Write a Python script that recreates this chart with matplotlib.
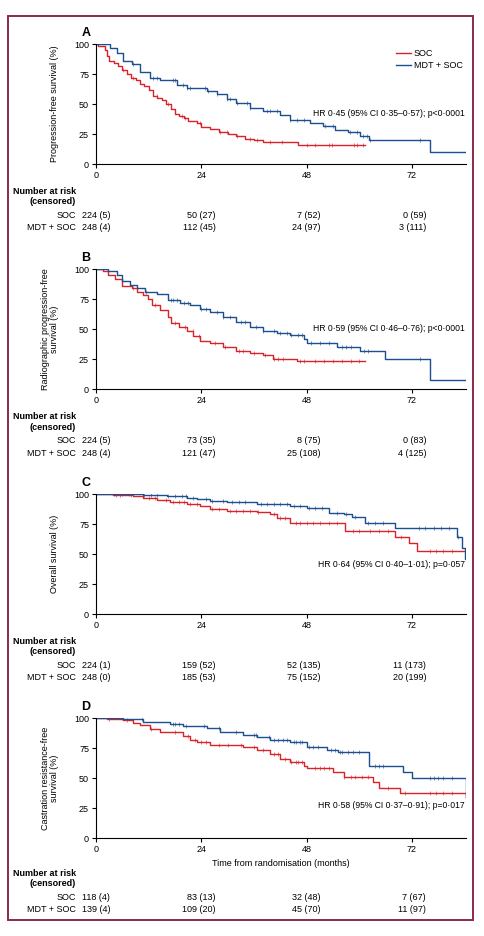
import numpy as np
import matplotlib
matplotlib.use("Agg")
import matplotlib.pyplot as plt
import matplotlib.transforms as mtransforms
from matplotlib.patches import Rectangle

plt.rcParams['font.family'] = ['Liberation Sans Narrow', 'Liberation Sans', 'DejaVu Sans']
plt.rcParams['font.size'] = 6.5

RED = '#d8232a'
BLUE = '#1c4f8f'
FRAME = '#8c2a4c'

# ---- data (months, % surviving) ----
# panel A: progression-free survival
a_soc_t = [0, 0.5, 2, 2.5, 3, 4, 5, 6, 7, 8, 9, 10, 11, 12, 13, 14, 15, 16, 17, 18, 19, 20, 21, 23, 24, 26, 28, 30, 32, 34, 36, 38, 46]
a_soc_s = [100, 98, 95, 90, 86, 84, 82, 78, 75, 72, 70, 67, 65, 62, 57, 55, 53, 50, 46, 42, 40, 38, 36, 34, 31, 29, 27, 25, 23, 21, 20, 18, 16]
a_soc_end = 61.3
a_soc_cens = [6.2, 8.5, 13.8, 16.5, 19.5, 20.3, 23.7, 28.3, 29.8, 32.1, 35.1, 36.6, 39.7, 42.3, 48.0, 49.9, 53.0, 53.7, 58.7, 59.4, 60.9]
a_mdt_t = [0, 3.2, 4.7, 6.2, 8.1, 10.0, 12.3, 14.6, 18.4, 20.7, 25.2, 27.5, 29.8, 32.0, 35.0, 38.0, 42.0, 44.2, 48.8, 51.8, 54.5, 57.5, 60.2, 62.1, 76.1]
a_mdt_s = [100, 97, 92.5, 85.5, 83, 77, 72, 70, 66, 63, 60.5, 58, 54, 51, 47, 44, 40.5, 37, 34, 32, 28, 26.5, 23, 20, 10]
a_mdt_end = 84.3
a_mdt_cens = [8.5, 13.1, 13.8, 17.6, 18.0, 19.9, 20.7, 21.4, 24.8, 25.6, 27.5, 29.8, 30.5, 32.1, 34.3, 35.1, 38.9, 39.7, 41.2, 44.2, 45.7, 47.3, 52.2, 54.1, 57.9, 59.4, 60.9, 61.7, 62.5, 73.9]

# panel B: radiographic progression-free survival
b_soc_t = [0, 1.5, 2.8, 4.3, 5.9, 8.1, 9.3, 10.8, 11.9, 12.7, 14.6, 16.5, 17.2, 18.8, 20.7, 22.2, 23.7, 26, 29, 32, 35, 38, 40.4, 45.7]
b_soc_s = [100, 98, 95, 92, 86, 84, 81, 78, 75, 70, 66, 60, 55, 52, 48, 44, 40, 38, 35, 32, 30, 28, 25, 23]
b_soc_end = 61.3
b_soc_cens = [8.5, 13.5, 18.0, 20.3, 22.0, 23.5, 27.0, 29.5, 32.5, 33.5, 36.0, 38.5, 40.5, 41.5, 42.5, 46.5, 47.5, 50.0, 52.0, 54.0, 56.0, 58.0, 60.0]
b_mdt_t = [0, 2.8, 4.7, 5.9, 7.7, 9.3, 11.2, 13.8, 16.5, 19.1, 21.4, 23.7, 26, 29, 32, 35, 38, 41.2, 44.2, 47.3, 48, 54.9, 60.2, 65.9, 76.1]
b_mdt_s = [100, 98, 95, 90, 87, 84, 81, 79, 74, 72, 70, 67, 64, 60, 56, 52, 48, 47, 45, 42, 38, 35, 32, 25, 7.5]
b_mdt_end = 84.3
b_mdt_cens = [11.5, 17.0, 17.5, 18.5, 20.0, 21.0, 24.0, 25.0, 27.5, 29.0, 30.5, 33.0, 34.0, 36.5, 38.0, 40.5, 42.0, 43.5, 44.5, 46.0, 47.0, 49.0, 51.0, 53.0, 56.0, 57.0, 58.0, 61.0, 62.0, 73.9]

# panel C: overall survival
c_soc_t = [0, 3.9, 8.5, 10.8, 13.8, 16.9, 20.7, 23.7, 26, 29.8, 36.6, 39.7, 41.2, 44.2, 56.8, 68.2, 71.2, 73.1]
c_soc_s = [100, 99.5, 98.5, 97, 95, 93.5, 92, 90, 87.5, 85.5, 85, 83, 80, 76, 69, 64, 59, 52.5]
c_soc_end = 84.3
c_soc_cens = [4.5, 5.5, 8.0, 12.0, 13.5, 16.0, 17.5, 19.0, 20.0, 21.5, 23.0, 26.5, 28.0, 30.5, 32.0, 33.5, 35.0, 37.0, 40.5, 42.0, 43.0, 45.5, 46.5, 48.0, 49.5, 51.0, 53.0, 55.0, 58.5, 60.0, 62.5, 64.5, 66.5, 69.5, 76.0, 77.5, 79.0, 81.0]
c_mdt_t = [0, 10.8, 16.1, 20.7, 23, 26, 29.8, 36.6, 44.2, 48, 53, 56.4, 58.3, 61.3, 68.2, 82.2, 83.4, 84.1]
c_mdt_s = [100, 99.5, 98, 97, 96, 94, 93, 91.5, 90, 88, 84.5, 83, 80.5, 75.5, 72, 64, 55, 46]
c_mdt_end = 84.3
c_mdt_cens = [4.0, 6.0, 7.5, 11.0, 12.5, 14.0, 16.5, 18.0, 19.5, 20.5, 22.0, 25.0, 26.5, 29.0, 31.0, 32.5, 34.0, 37.5, 39.0, 40.5, 42.0, 43.5, 45.0, 46.5, 48.5, 50.0, 51.5, 55.0, 57.0, 59.0, 62.0, 63.5, 65.5, 73.5, 75.0, 77.0, 78.5, 80.5, 82.5]

# panel D: castration resistance-free survival
d_soc_t = [0, 2.4, 6.2, 8.5, 10, 12.3, 14.6, 19.9, 21.4, 23, 26, 33.6, 36.6, 39.7, 41.9, 44.2, 47.3, 48, 54.1, 56.4, 63.2, 64.4, 69.3, 84.2]
d_soc_s = [100, 99, 98, 96, 94, 91, 88, 85, 82, 80, 77.5, 76, 73, 70, 66, 63, 60, 58, 55, 51, 47, 42, 37.5, 33]
d_soc_end = 84.3
d_soc_cens = [3.0, 7.0, 12.5, 18.0, 21.0, 22.5, 24.0, 25.0, 28.0, 30.0, 33.0, 36.0, 38.0, 40.5, 41.5, 43.0, 44.5, 45.5, 46.0, 47.0, 50.0, 51.0, 52.0, 53.0, 56.5, 58.0, 59.0, 60.5, 62.0, 66.5, 70.5, 76.0, 77.5, 79.0, 81.0]
d_mdt_t = [0, 6.2, 10.8, 16.9, 19.9, 25.2, 28.3, 33.6, 36.6, 39.7, 44.2, 48, 52.6, 55.2, 62.1, 70, 72, 84.2]
d_mdt_s = [100, 99, 97, 95, 93, 91.5, 88, 86, 84.5, 82, 80, 76, 73.5, 71.5, 60, 55, 50, 34]
d_mdt_end = 84.3
d_mdt_cens = [6.0, 10.5, 17.5, 18.0, 19.0, 20.5, 24.5, 28.0, 32.0, 36.0, 36.5, 39.5, 40.5, 41.5, 42.5, 43.5, 45.0, 45.5, 46.5, 47.0, 48.5, 49.5, 50.5, 53.5, 54.5, 55.5, 56.0, 57.5, 58.5, 60.0, 63.5, 64.5, 65.5, 76.0, 77.0, 78.0, 79.0, 81.0]

# text
panel_letters = ['A', 'B', 'C', 'D']
ylabels = ['Progression-free survival (%)',
           'Radiographic progression-free\nsurvival (%)',
           'Overall survival (%)',
           'Castration resistance-free\nsurvival (%)']
hr_texts = ['HR 0·45 (95% CI 0·35–0·57); p<0·0001',
            'HR 0·59 (95% CI 0·46–0·76); p<0·0001',
            'HR 0·64 (95% CI 0·40–1·01); p=0·057',
            'HR 0·58 (95% CI 0·37–0·91); p=0·017']
hr_y = [42.5, 50.5, 41, 27.5]
risk_months = [0, 24, 48, 72]
risk_soc = [['224 (5)', '50 (27)', '7 (52)', '0 (59)'],
            ['224 (5)', '73 (35)', '8 (75)', '0 (83)'],
            ['224 (1)', '159 (52)', '52 (135)', '11 (173)'],
            ['118 (4)', '83 (13)', '32 (48)', '7 (67)']]
risk_mdt = [['248 (4)', '112 (45)', '24 (97)', '3 (111)'],
            ['248 (4)', '121 (47)', '25 (108)', '4 (125)'],
            ['248 (0)', '185 (53)', '75 (152)', '20 (199)'],
            ['139 (4)', '109 (20)', '45 (70)', '11 (97)']]

curves = [
    (a_soc_t, a_soc_s, a_soc_end, a_soc_cens, a_mdt_t, a_mdt_s, a_mdt_end, a_mdt_cens),
    (b_soc_t, b_soc_s, b_soc_end, b_soc_cens, b_mdt_t, b_mdt_s, b_mdt_end, b_mdt_cens),
    (c_soc_t, c_soc_s, c_soc_end, c_soc_cens, c_mdt_t, c_mdt_s, c_mdt_end, c_mdt_cens),
    (d_soc_t, d_soc_s, d_soc_end, d_soc_cens, d_mdt_t, d_mdt_s, d_mdt_end, d_mdt_cens),
]


def step_value(t, s, x):
    idx = np.searchsorted(np.asarray(t), x, side='right') - 1
    return np.asarray(s)[idx]


def draw_km(ax, t, s, end, cens, color, label):
    tt = list(t) + [end]
    ss = list(s) + [s[-1]]
    ax.step(tt, ss, where='post', color=color, lw=1.0, label=label)
    cy = step_value(t, s, np.asarray(cens))
    ax.plot(cens, cy, ls='none', marker='|', ms=3, mew=0.7, color=color, alpha=0.6)


W, H = 484, 936
fig = plt.figure(figsize=(W / 100, H / 100), dpi=100)
fig.patches.append(Rectangle((7.5 / W, 1 - 920 / H), (473 - 7.5) / W, (920 - 15.5) / H,
                             transform=fig.transFigure, fill=False, ec=FRAME, lw=1.4))

ax_left, ax_right = 96, 466
bottoms = [164, 389, 614, 838]
ax_h = 120

for i in range(4):
    ax = fig.add_axes([ax_left / W, 1 - bottoms[i] / H, (ax_right - ax_left) / W, ax_h / H])
    st, ss, se, sc, mt, ms_, me, mc = curves[i]
    draw_km(ax, st, ss, se, sc, RED, 'SOC')
    draw_km(ax, mt, ms_, me, mc, BLUE, 'MDT + SOC')
    ax.set_xlim(0, 84.3)
    ax.set_ylim(0, 100)
    ax.set_xticks([0, 24, 48, 72])
    ax.set_yticks([0, 25, 50, 75, 100])
    for sp in ['top', 'right']:
        ax.spines[sp].set_visible(False)
    for sp in ['left', 'bottom']:
        ax.spines[sp].set_linewidth(0.8)
    ax.tick_params(length=3, width=0.8, pad=2, labelsize=6.5)
    ax.set_ylabel(ylabels[i], fontsize=6.5, labelpad=11, linespacing=1.0)
    ax.text(-0.027, 1.09, panel_letters[i], transform=ax.transAxes, fontsize=9,
            fontweight='bold', ha='center', va='center')
    ax.text(84.0, hr_y[i], hr_texts[i], ha='right', va='center', fontsize=6.2)

    if i == 0:
        ax.legend(loc='upper right', bbox_to_anchor=(1.0, 0.99), frameon=False,
                  handlelength=1.6, handletextpad=0.3, labelspacing=0.35, fontsize=6.5,
                  borderaxespad=0.0)

    off = 0
    if i == 3:
        ax.set_xlabel('Time from randomisation (months)', fontsize=6.5, labelpad=4)
        off = 8
    tr = mtransforms.blended_transform_factory(ax.transData, ax.transAxes)
    rows_y = [-(27 + off) / ax_h, -(38 + off) / ax_h, -(51 + off) / ax_h, -(64 + off) / ax_h]
    ax.text(-4.6, rows_y[0], 'Number at risk', transform=tr, ha='right', va='center',
            fontsize=6.5, fontweight='bold')
    ax.text(-4.6, rows_y[1], '(censored)', transform=tr, ha='right', va='center',
            fontsize=6.5, fontweight='bold')
    ax.text(-4.6, rows_y[2], 'SOC', transform=tr, ha='right', va='center', fontsize=6.5)
    ax.text(-4.6, rows_y[3], 'MDT + SOC', transform=tr, ha='right', va='center', fontsize=6.5)
    for j, m in enumerate(risk_months):
        ax.text(m + 3.2, rows_y[2], risk_soc[i][j], transform=tr, ha='right', va='center', fontsize=6.5)
        ax.text(m + 3.2, rows_y[3], risk_mdt[i][j], transform=tr, ha='right', va='center', fontsize=6.5)

fig.savefig('out.png', dpi=100, facecolor='white')
